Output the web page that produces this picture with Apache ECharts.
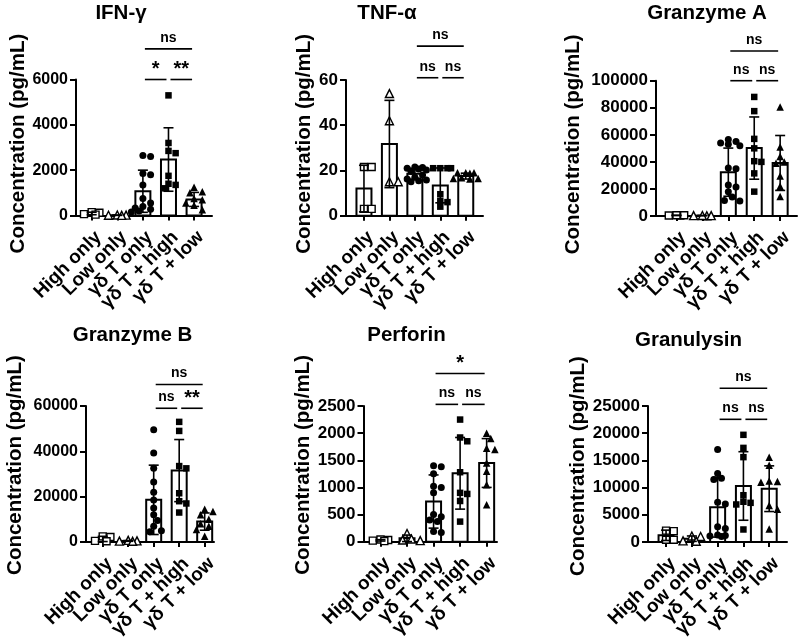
<!DOCTYPE html>
<html><head><meta charset="utf-8">
<script src="https://cdn.jsdelivr.net/npm/echarts@6/dist/echarts.min.js"></script>
<style>html,body{margin:0;padding:0;background:#fff}#c{width:800px;height:637px}</style>
</head><body><div id="c"></div>
<script>
// ---------------- DATA ----------------
const categories = ['High only', 'Low only', 'γδ T only', 'γδ T + high', 'γδ T + low'];
const titles = ['IFN-γ', 'TNF-α', 'Granzyme A', 'Granzyme B', 'Perforin', 'Granulysin'];
const yName = 'Concentration (pg/mL)';

// IFN-γ
const ifnPoints = [
  [60, 120, 150, 40],
  [10, 20, 15, 5],
  [2600, 2650, 1850, 1800, 1350, 750, 550, 400, 330, 280, 200, 150],
  [5300, 3200, 2850, 2750, 1750, 1400, 1350, 1200],
  [1250, 1050, 1000, 750, 700, 550, 450, 250]
];
const ifnMean = [90, 12, 1070, 2470, 710];
const ifnSD = [55, 7, 930, 1400, 310];
const ifnSig = [[2, 3, '*'], [3, 4, '**'], [2, 4, 'ns']];
const ifnTicks = [0, 2000, 4000, 6000];

// TNF-α
const tnfPoints = [
  [21.5, 21.5, 3, 3],
  [54, 42, 15, 15],
  [21.5, 21.3, 21, 20.6, 20.2, 19.5, 18, 17, 16.2, 15.8, 15.4, 15],
  [21, 21, 21, 21, 9.5, 6.5, 6, 4],
  [19, 19, 19, 18.8, 16.8, 16.5, 16.5, 16.2]
];
const tnfMean = [12, 31.7, 18.5, 13.4, 17.5];
const tnfSD = [10.3, 19.3, 2.5, 7.7, 1.3];
const tnfSig = [[2, 3, 'ns'], [3, 4, 'ns'], [2, 4, 'ns']];
const tnfTicks = [0, 20, 40, 60];

// Granzyme A
const gzaPoints = [
  [300, 500, 400, 600],
  [200, 300, 300, 400],
  [56500, 55000, 54000, 53000, 52000, 35500, 35000, 23000, 21500, 18000, 14000, 11500, 11000],
  [88000, 77500, 57000, 50000, 40500, 40000, 31500, 18000],
  [80500, 51000, 44000, 40000, 39000, 29500, 22000, 14500]
];
const gzaMean = [450, 300, 32400, 50200, 39200];
const gzaSD = [120, 80, 17800, 23000, 20300];
const gzaSig = [[2, 3, 'ns'], [3, 4, 'ns'], [2, 4, 'ns']];
const gzaTicks = [0, 20000, 40000, 60000, 80000, 100000];

// Granzyme B
const gzbPoints = [
  [2500, 2200, 500, 300],
  [700, 500, 300, 400],
  [49500, 39300, 32500, 26500, 22000, 18500, 15000, 12000, 9500, 7000, 5000, 4500],
  [53000, 49000, 33500, 32500, 21500, 18000, 17000, 13000],
  [14500, 13500, 12000, 10000, 8000, 7000, 5500, 2500]
];
const gzbMean = [1350, 470, 18600, 31500, 9000];
const gzbSD = [1150, 170, 15300, 13700, 3800];
const gzbSig = [[2, 3, 'ns'], [3, 4, '**'], [2, 4, 'ns']];
const gzbTicks = [0, 20000, 40000, 60000];

// Perforin
const perPoints = [
  [40, 30, 20, 10],
  [150, 50, 30, 20],
  [1400, 1380, 1250, 1020, 1000, 900, 500, 460, 400, 370, 190, 170],
  [2250, 1920, 1850, 1280, 900, 880, 750, 370],
  [2000, 1900, 1720, 1700, 1450, 1300, 1050, 680]
];
const perMean = [25, 62, 740, 1260, 1450];
const perSD = [13, 60, 490, 660, 450];
const perSig = [[2, 3, 'ns'], [3, 4, 'ns'], [2, 4, '*']];
const perTicks = [0, 500, 1000, 1500, 2000, 2500];

// Granulysin
const glyPoints = [
  [2100, 2000, 400, 400],
  [1100, 1000, 200, 150],
  [17000, 12600, 11700, 11500, 7300, 7000, 2800, 2500, 1300, 1200, 1100, 1000],
  [19700, 17300, 15600, 8600, 7400, 7200, 6900, 2300],
  [15600, 14100, 11200, 11100, 11000, 6700, 6000, 2400]
];
const glyMean = [1230, 610, 6400, 10300, 9800];
const glySD = [950, 500, 5500, 6300, 4200];
const glySig = [[2, 3, 'ns'], [3, 4, 'ns'], [2, 4, 'ns']];
const glyTicks = [0, 5000, 10000, 15000, 20000, 25000];

// ---------------- LAYOUT / STYLE ----------------
const FONT = '"Liberation Sans", Arial, Helvetica, sans-serif';
const layout = [
  {left: 76,  top: 79.5, width: 136, height: 136, xmin: -0.613, xmax: 4.70, tx: 121,   ty: 3,     nameGap: 41, namePad: 8,  tickFont: 16, levels: [6000, 7350]},
  {left: 346, top: 80,   width: 137, height: 135.7, xmin: -0.706, xmax: 4.678, tx: 387, ty: 3,   nameGap: 28, namePad: 8,  tickFont: 17, levels: [61, 75]},
  {left: 656, top: 80.7, width: 141, height: 135.3, xmin: -0.79, xmax: 4.65, tx: 707,   ty: 3,     nameGap: 72, namePad: 8,  tickFont: 17, levels: [100000, 122000]},
  {left: 86,  top: 406,  width: 128, height: 136, xmin: -0.655, xmax: 4.365, tx: 132.5, ty: 324.5, nameGap: 60, namePad: 18, tickFont: 16, levels: [59000, 69500]},
  {left: 363.5, top: 406, width: 133.5, height: 135.7, xmin: -0.64, xmax: 4.39, tx: 406.5, ty: 324.5, nameGap: 45, namePad: 18, tickFont: 17, levels: [2530, 3100]},
  {left: 648, top: 406,  width: 139, height: 136, xmin: -0.70, xmax: 4.69, tx: 688.5, ty: 329.5, nameGap: 59, namePad: 16, tickFont: 17, levels: [22550, 28250]}
];
const CAT_FONT = 19, CAT_MARGIN = 12;
const panels = [
  {points: ifnPoints, mean: ifnMean, sd: ifnSD, sig: ifnSig, ticks: ifnTicks},
  {points: tnfPoints, mean: tnfMean, sd: tnfSD, sig: tnfSig, ticks: tnfTicks},
  {points: gzaPoints, mean: gzaMean, sd: gzaSD, sig: gzaSig, ticks: gzaTicks},
  {points: gzbPoints, mean: gzbMean, sd: gzbSD, sig: gzbSig, ticks: gzbTicks},
  {points: perPoints, mean: perMean, sd: perSD, sig: perSig, ticks: perTicks},
  {points: glyPoints, mean: glyMean, sd: glySD, sig: glySig, ticks: glyTicks}
];
const markers = [
  {symbol: 'rect', size: 7, fill: '#fff'},
  {symbol: 'triangle', size: 8, fill: '#fff'},
  {symbol: 'circle', size: 7, fill: '#000'},
  {symbol: 'rect', size: 6.5, fill: '#000'},
  {symbol: 'triangle', size: 7.5, fill: '#000'}
];

// horizontal spreading of overlapping dots (pixel layout only)
function swarm(vals, pxPerUnit, size) {
  const idx = vals.map((v, i) => i).sort((a, b) => vals[b] - vals[a]);
  const placed = [];
  const off = new Array(vals.length).fill(0);
  const step = size * 0.55;
  const cands = [0];
  for (let k = 1; k <= 3; k++) cands.push(k * step, -k * step);
  idx.forEach(i => {
    const y = vals[i] * pxPerUnit;
    let best = 0, bestMin = -1;
    for (const dx of cands) {
      let minD = Infinity;
      placed.forEach(p => { minD = Math.min(minD, Math.hypot(p.x - dx, p.y - y)); });
      if (minD >= size * 0.85) { best = dx; bestMin = Infinity; break; }
      if (minD > bestMin) { bestMin = minD; best = dx; }
    }
    off[i] = best;
    placed.push({x: best, y: y});
  });
  return off;
}

const grid = [], xAxis = [], yAxis = [], title = [], series = [];
panels.forEach((P, p) => {
  const L = layout[p];
  const yMax = P.ticks[P.ticks.length - 1];
  const pxPerUnit = L.height / yMax;
  grid.push({left: L.left, top: L.top, width: L.width, height: L.height, containLabel: false, outerBoundsMode: 'none'});
  title.push({text: titles[p], left: L.tx, top: L.ty, textAlign: 'center', padding: 0,
    textStyle: {fontFamily: FONT, fontWeight: 'bold', fontSize: 20.5, color: '#000'}});
  xAxis.push({
    gridIndex: p, type: 'value', min: L.xmin, max: L.xmax,
    axisLine: {show: true, onZero: false, lineStyle: {color: '#000', width: 2}},
    axisTick: {show: true, customValues: [0, 1, 2, 3, 4], length: 5, lineStyle: {color: '#000', width: 2}},
    axisLabel: {show: false},
    splitLine: {show: false}
  });
  yAxis.push({
    gridIndex: p, type: 'value', min: 0, max: yMax, interval: P.ticks[1] - P.ticks[0],
    axisLine: {show: true, onZero: false, lineStyle: {color: '#000', width: 2}},
    axisTick: {show: true, length: 6, lineStyle: {color: '#000', width: 2}},
    axisLabel: {color: '#000', fontWeight: 'bold', fontSize: L.tickFont, fontFamily: FONT, margin: 8,
      showMinLabel: true, showMaxLabel: true, formatter: v => String(v)},
    splitLine: {show: false},
    name: yName, nameLocation: 'middle', nameGap: L.nameGap,
    nameTextStyle: {color: '#000', fontWeight: 'bold', fontSize: 20.5, fontFamily: FONT, padding: [0, 0, 0, L.namePad]}
  });
  // bars
  series.push({
    type: 'custom', xAxisIndex: p, yAxisIndex: p, z: 1, clip: false, silent: true,
    data: P.mean.map((m, i) => [i, m]),
    renderItem: (params, api) => {
      const top = api.coord([api.value(0), api.value(1)]);
      const base = api.coord([api.value(0), 0]);
      const hw = 7.5;
      return {type: 'rect', shape: {x: top[0] - hw, y: top[1], width: hw * 2, height: base[1] - top[1]},
        style: {fill: '#fff', stroke: '#000', lineWidth: 2}};
    }
  });
  // points
  P.points.forEach((vals, g) => {
    const mk = markers[g];
    const off = swarm(vals, pxPerUnit, mk.size);
    series.push({
      type: 'scatter', xAxisIndex: p, yAxisIndex: p, z: 2, silent: true,
      symbol: mk.symbol, symbolSize: mk.size,
      itemStyle: {color: mk.fill, borderColor: '#000', borderWidth: mk.fill === '#fff' ? 1.4 : 0, opacity: 1},
      data: vals.map((v, k) => ({value: [g, v], symbolOffset: [off[k], 0]}))
    });
  });
  // error bars (mean ± SD)
  series.push({
    type: 'custom', xAxisIndex: p, yAxisIndex: p, z: 3, clip: false, silent: true,
    data: P.mean.map((m, i) => [i, m, P.sd[i]]),
    renderItem: (params, api) => {
      const x = api.value(0), m = api.value(1), s = api.value(2);
      const hi = api.coord([x, m + s]);
      const lo = api.coord([x, Math.max(m - s, 0)]);
      const cw = 5;
      const st = {stroke: '#000', lineWidth: 1.6};
      return {type: 'group', children: [
        {type: 'line', shape: {x1: hi[0], y1: hi[1], x2: lo[0], y2: lo[1]}, style: st},
        {type: 'line', shape: {x1: hi[0] - cw, y1: hi[1], x2: hi[0] + cw, y2: hi[1]}, style: st},
        {type: 'line', shape: {x1: lo[0] - cw, y1: lo[1], x2: lo[0] + cw, y2: lo[1]}, style: st}
      ]};
    }
  });
  // significance brackets
  series.push({
    type: 'custom', xAxisIndex: p, yAxisIndex: p, z: 3, clip: false, silent: true,
    data: P.sig.map(s => [s[0], s[1], L.levels[s[1] - s[0] === 1 ? 0 : 1]]),
    renderItem: (params, api) => {
      const lab = P.sig[params.dataIndex][2];
      const y = api.value(2);
      const a = api.coord([api.value(0), y]);
      const b = api.coord([api.value(1), y]);
      const star = lab.indexOf('*') >= 0;
      return {type: 'group', children: [
        {type: 'line', shape: {x1: a[0] + 2, y1: a[1], x2: b[0] - 2, y2: b[1]}, style: {stroke: '#000', lineWidth: 1.6}},
        {type: 'text', x: (a[0] + b[0]) / 2, y: a[1] - (star ? 0 : 4),
          style: {text: lab, fill: '#000', align: 'center', verticalAlign: 'bottom',
            font: 'bold ' + (star ? 20 : 14) + 'px ' + FONT}}
      ]};
    }
  });
  // category labels (rotated 45°, placed at each category tick through the x scale)
  series.push({
    type: 'custom', xAxisIndex: p, yAxisIndex: p, z: 4, clip: false, silent: true,
    data: categories.map((c, i) => [i, 0]),
    renderItem: (params, api) => {
      const pt = api.coord([api.value(0), 0]);
      return {type: 'text', x: pt[0], y: pt[1] + CAT_MARGIN, rotation: Math.PI / 4,
        style: {text: categories[params.dataIndex], fill: '#000', align: 'right', verticalAlign: 'top',
          font: 'bold ' + CAT_FONT + 'px ' + FONT}};
    }
  });
});

const chart = echarts.init(document.getElementById('c'), null, {renderer: 'canvas'});
chart.setOption({
  backgroundColor: '#fff',
  animation: false,
  title: title, grid: grid, xAxis: xAxis, yAxis: yAxis, series: series
});
</script>
</body></html>
